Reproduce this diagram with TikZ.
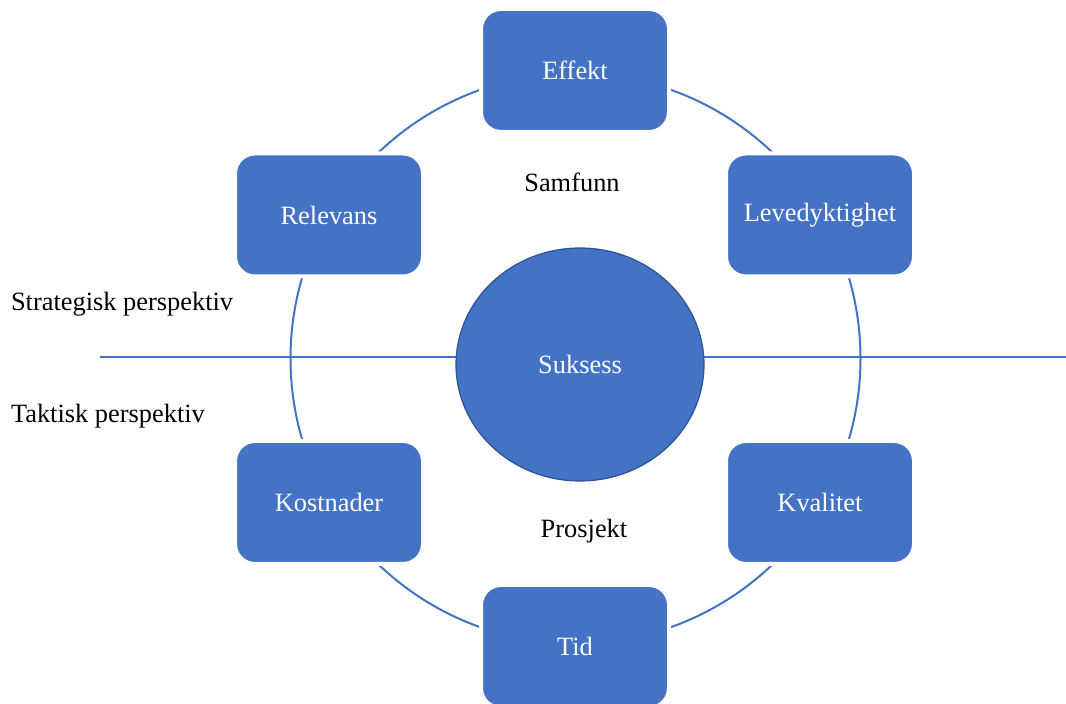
\documentclass[tikz,border=0pt]{standalone}
\usepackage{fontspec}
\setmainfont{Liberation Serif}
\usetikzlibrary{positioning, shapes.geometric}
\definecolor{boxblue}{HTML}{4472C4}
\definecolor{rimblue}{HTML}{2F528F}
\tikzset{
  every picture/.style={line width=1pt},
  every node/.style={font=\fontsize{13.2}{16}\selectfont},
  sbox/.style={draw=white, line width=2pt, fill=boxblue, rounded corners=10pt,
    minimum width=94pt, minimum height=61.5pt, inner sep=0pt, text=white},
  hub/.style={ellipse, draw=rimblue, line width=0.6pt, fill=boxblue,
    minimum width=124pt, minimum height=116.5pt, inner sep=0pt, text=white},
  desc/.style={text=black, inner sep=0pt},
  ring/.style={draw=boxblue, line width=1pt},
}

\begin{document}
\begin{tikzpicture}[x=0.5pt, y=-0.5pt]
    \useasboundingbox (0,0) rectangle (1066,704);

    \coordinate (mid) at (575.5,358.5);
    \draw[ring] (mid) circle [radius=142.5pt];

    \coordinate (lineL) at (100,357);
    \coordinate (lineR) at (1066,357);
    \draw[ring] (lineL) -- (lineR);

    \node[sbox] (effekt) at (575,70.5) {Effekt};
    \node[sbox] (relevans) at (329,215) {Relevans};
    \node[sbox] (leve) at (820,215) {Levedyktighet};
    \node[sbox] (kost) at (329,502.5) {Kostnader};
    \node[sbox] (kval) at (820,502.5) {Kvalitet};
    \node[sbox] (tid) at (575,646.5) {Tid};

    \node[hub] (suksess) at (580,364.5) {Suksess};

    \node[desc] (samfunn) at (572,182) {Samfunn};
    \node[desc] (prosjekt) at (584,531) {Prosjekt};

    \node[desc, anchor=west] (strat) at (10,304) {Strategisk perspektiv};
    \node[desc, anchor=west] (takt) at (10,416) {Taktisk perspektiv};
  \end{tikzpicture}
\end{document}
